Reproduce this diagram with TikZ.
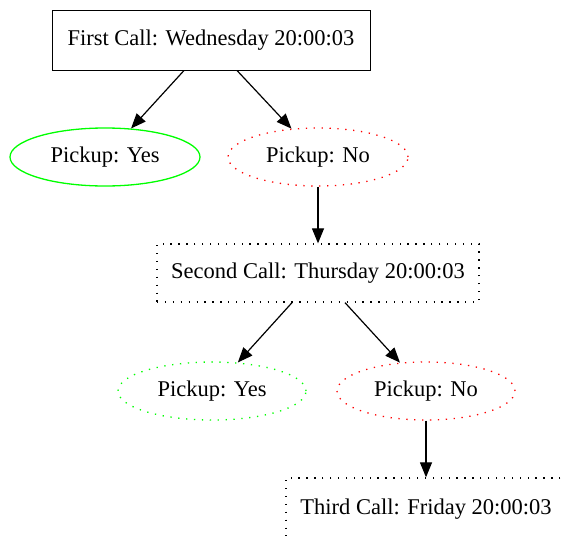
\documentclass[tikz,border=0pt]{standalone}
\usepackage{fontspec}
\setmainfont{Liberation Serif}
\usetikzlibrary{shapes.geometric,arrows.meta}
\begin{document}
\begin{tikzpicture}[x=1pt,y=-1pt,
  every node/.style={font=\fontsize{22.5}{26}\selectfont, inner sep=0pt},
  callbox/.style={draw, rectangle, line width=1pt},
  dotbox/.style={draw, rectangle, line width=1.3pt, dash pattern=on 1.3pt off 6.6pt},
  outcome/.style={draw, ellipse, minimum width=190pt, minimum height=58pt, line width=1.3pt},
  dotted outcome/.style={outcome, dash pattern=on 1.3pt off 6.6pt},
  yescol/.style={draw=green},
  nocol/.style={draw=red},
  link/.style={line width=1.2pt, -{Triangle[length=15pt,width=12pt]}}
]
\useasboundingbox (0,0) rectangle (561,535);
\clip (0,0) rectangle (561,535);

\node[callbox, minimum width=318pt, minimum height=59pt] (first) at (211,40.5) {First Call: Wednesday 20:00:03};
\node[outcome, yescol] (yes1) at (105,157) {Pickup: Yes};
\node[dotted outcome, nocol, minimum width=180pt] (no1) at (318,157) {Pickup: No};
\node[dotbox, minimum width=322pt, minimum height=58pt] (second) at (318,273) {Second Call: Thursday 20:00:03};
\node[dotted outcome, yescol, minimum width=188pt] (yes2) at (212,391) {Pickup: Yes};
\node[dotted outcome, nocol, minimum width=178pt] (no2) at (426,391) {Pickup: No};
\node[dotbox, minimum width=280pt, minimum height=62pt] (third) at (426,509) {Third Call: Friday 20:00:03};

\draw[link] ([xshift=-27pt]first.south) -- (yes1);
\draw[link] ([xshift=26pt]first.south) -- (no1);
\draw[link] (no1) -- (second);
\draw[link] ([xshift=-26pt]second.south) -- (yes2);
\draw[link] ([xshift=27pt]second.south) -- (no2);
\draw[link] (no2) -- (third);
\end{tikzpicture}
\end{document}
